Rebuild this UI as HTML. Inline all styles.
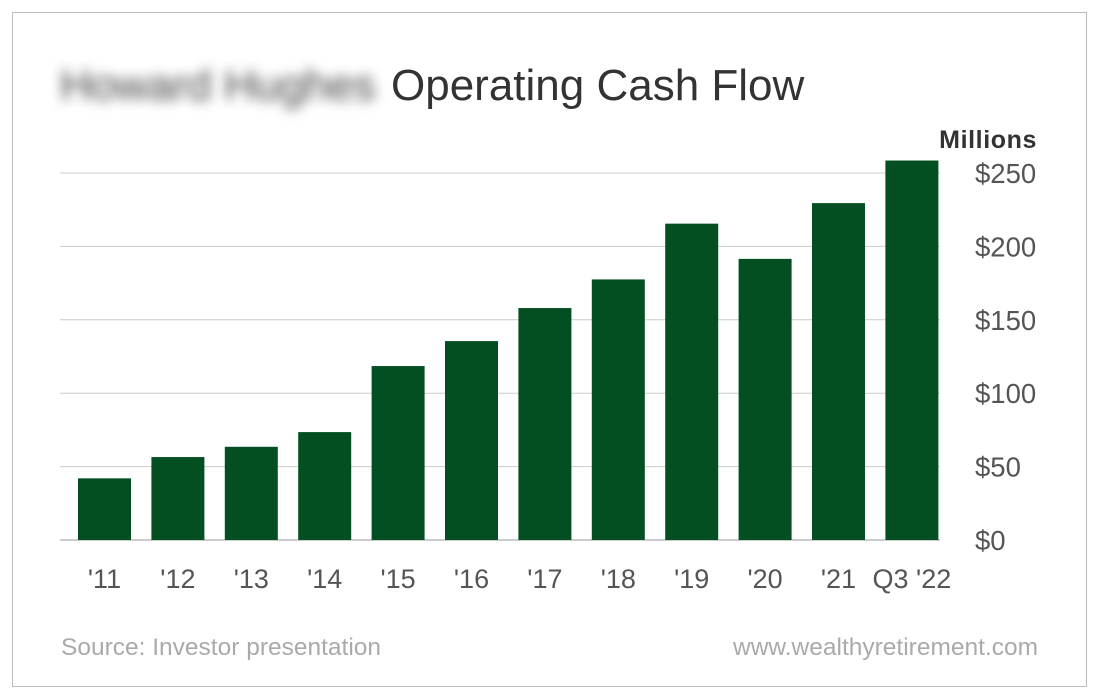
<!DOCTYPE html>
<html><head><meta charset="utf-8"><style>
body{margin:0;background:#fff;width:1100px;height:700px;overflow:hidden;font-family:"Liberation Sans",sans-serif}
#frame{position:absolute;left:12px;top:12px;width:1075px;height:675px;border:1px solid #bbb;box-sizing:border-box}
.t{position:absolute;white-space:nowrap}
</style></head><body>
<div id="frame"></div>
<div class="t" style="left:60px;top:61px;font-size:44px;color:#444;filter:blur(6px)">Howard Hughes</div>
<div class="t" style="left:391px;top:61px;font-size:44px;color:#333">Operating Cash Flow</div>
<div class="t" style="right:63px;top:126px;font-size:25px;font-weight:bold;color:#333;letter-spacing:0.6px">Millions</div>
<svg id="chart" width="1100" height="700" style="position:absolute;left:0;top:0"></svg>
<div class="t" style="left:61px;top:634px;font-size:24.5px;color:#aaa">Source: Investor presentation</div>
<div class="t" style="right:62px;top:634px;font-size:24.5px;color:#aaa">www.wealthyretirement.com</div>
<script>
const categories=["'11","'12","'13","'14","'15","'16","'17","'18","'19","'20","'21","Q3 '22"];
const values=[42,56.5,63.5,73.5,118.5,135.5,158,177.5,215.5,191.5,229.5,258.5];
const ticks=[0,50,100,150,200,250];
const tickLabels=["$0","$50","$100","$150","$200","$250"];
const svg=document.getElementById('chart');const NS='http://www.w3.org/2000/svg';
const y=v=>540-v*367/250;
const x=i=>78+i*73.4;
const bw=53;
ticks.forEach((t,i)=>{
 const l=document.createElementNS(NS,'line');
 l.setAttribute('x1',60);l.setAttribute('x2',940);l.setAttribute('y1',y(t));l.setAttribute('y2',y(t));
 l.setAttribute('stroke',t===0?'#999':'#ccc');l.setAttribute('stroke-width',1);
 
 
 svg.appendChild(l);
 const tx=document.createElementNS(NS,'text');
 tx.setAttribute('x',975);tx.setAttribute('y',y(t)+10);tx.setAttribute('font-size',27.5);tx.setAttribute('fill','#555');
 tx.setAttribute('font-family','Liberation Sans, sans-serif');tx.textContent=tickLabels[i];
 
 
 svg.appendChild(tx);
});
values.forEach((v,i)=>{
 const r=document.createElementNS(NS,'rect');
 r.setAttribute('x',x(i));r.setAttribute('y',y(v));r.setAttribute('width',bw);r.setAttribute('height',540-y(v));r.setAttribute('fill','#034f22');
 
 
 svg.appendChild(r);
 const tx=document.createElementNS(NS,'text');
 tx.setAttribute('x',x(i)+bw/2);tx.setAttribute('y',588);tx.setAttribute('font-size',27);tx.setAttribute('fill','#555');
 tx.setAttribute('text-anchor','middle');tx.setAttribute('font-family','Liberation Sans, sans-serif');tx.textContent=categories[i];
 
 
 svg.appendChild(tx);
});
</script>
</body></html>
